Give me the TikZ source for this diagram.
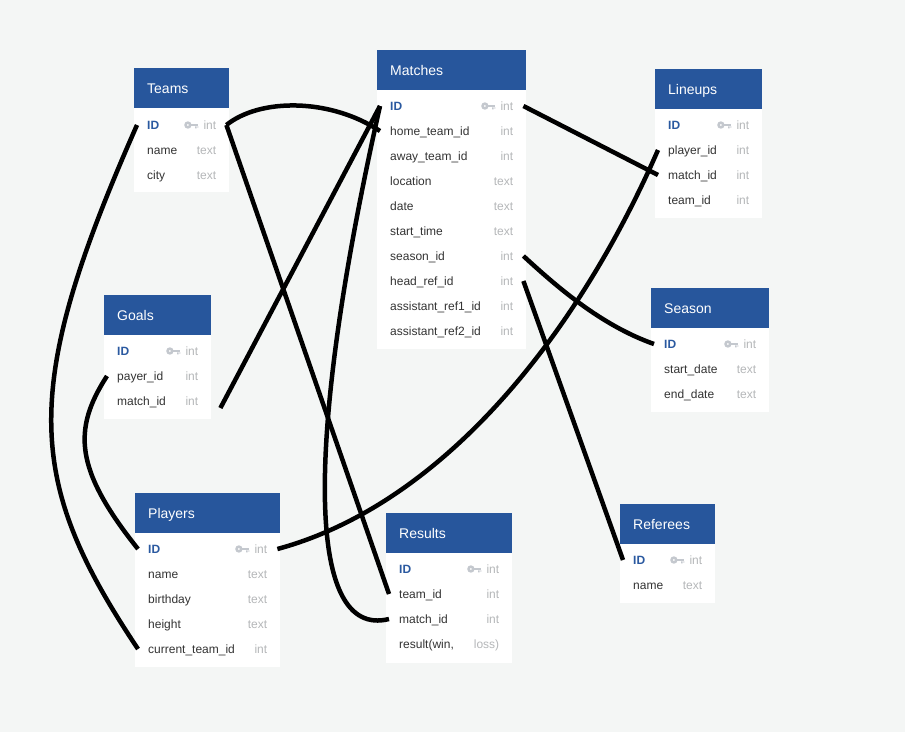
\documentclass[tikz,border=0pt]{standalone}
\usepackage{fontspec}
\setmainfont{Liberation Sans}
\definecolor{bggray}{HTML}{F4F6F5}
\definecolor{headblue}{HTML}{27569C}
\definecolor{pkblue}{HTML}{2A59A0}
\definecolor{fldgray}{HTML}{333333}
\definecolor{typgray}{HTML}{B5B7B9}
\definecolor{keygray}{HTML}{C4C8CE}
\begin{document}
\begin{tikzpicture}[x=1pt, y=-1pt,
  title/.style={anchor=west, inner sep=0, text=white, text height=12, text depth=1, font=\fontsize{14}{16}\selectfont},
  fld/.style={anchor=west, inner xsep=10, inner ysep=0, align=left, text=fldgray, text height=9.6, text depth=1.4, font=\fontsize{12}{14}\selectfont},
  pk/.style={text=pkblue, font=\fontsize{12}{14}\selectfont\bfseries},
  typ/.style={anchor=east, inner xsep=10, inner ysep=0, text=typgray, text height=9.6, text depth=1.4, font=\fontsize{12}{14}\selectfont},
  link/.style={line width=4.5, black},
  keyicon/.pic={
    \fill[keygray, even odd rule] (-10.5,0) circle (3.7) (-10.5,0) circle (1.3);
    \fill[keygray] (-7.5,-1.4) rectangle (0,1.4);
    \fill[keygray] (-3.3,1.4) rectangle (-1.7,3.3) (-1.1,1.4) rectangle (0,2.7);
  }]

\useasboundingbox (0,0) rectangle (905,732);
\fill[bggray] (0,0) rectangle (905,732);

%Teams
\fill[headblue] (134,68) rectangle (229,108);
\fill[white] (134,108) rectangle (229,192);
\node[title] (teams) at (147,88) {Teams};
\node[fld, pk, text width=69] (teams-id) at (137,125) {ID} node[typ] at (teams-id.east) {int};
\pic at ([xshift=-28]teams-id.east) {keyicon};
\foreach \key/\fld/\typ [count=\i] in {name/name/text, city/city/text}
  \node[fld, text width=69] (teams-\key) at (137,125+25*\i) {\fld} node[typ] at (teams-\key.east) {\typ};

%Matches
\fill[headblue] (377,50) rectangle (526,90);
\fill[white] (377,90) rectangle (526,349);
\node[title] (matches) at (390,70) {Matches};
\node[fld, pk, text width=123] (matches-id) at (380,106) {ID} node[typ] at (matches-id.east) {int};
\pic at ([xshift=-28]matches-id.east) {keyicon};
\foreach \key/\fld/\typ [count=\i] in {home/home\_team\_id/int, away/away\_team\_id/int,
    location/location/text, date/date/text, start/start\_time/text, season/season\_id/int,
    head/head\_ref\_id/int, ref1/assistant\_ref1\_id/int, ref2/assistant\_ref2\_id/int}
  \node[fld, text width=123] (matches-\key) at (380,106+25*\i) {\fld} node[typ] at (matches-\key.east) {\typ};

%Lineups
\fill[headblue] (655,69) rectangle (762,109);
\fill[white] (655,109) rectangle (762,218);
\node[title] (lineups) at (668,89) {Lineups};
\node[fld, pk, text width=81] (lineups-id) at (658,125) {ID} node[typ] at (lineups-id.east) {int};
\pic at ([xshift=-28]lineups-id.east) {keyicon};
\foreach \key/\fld/\typ [count=\i] in {player/player\_id/int, match/match\_id/int, team/team\_id/int}
  \node[fld, text width=81] (lineups-\key) at (658,125+25*\i) {\fld} node[typ] at (lineups-\key.east) {\typ};

%Goals
\fill[headblue] (104,295) rectangle (211,335);
\fill[white] (104,335) rectangle (211,419);
\node[title] (goals) at (117,315) {Goals};
\node[fld, pk, text width=81] (goals-id) at (107,351) {ID} node[typ] at (goals-id.east) {int};
\pic at ([xshift=-28]goals-id.east) {keyicon};
\foreach \key/\fld/\typ [count=\i] in {player/payer\_id/int, match/match\_id/int}
  \node[fld, text width=81] (goals-\key) at (107,351+25*\i) {\fld} node[typ] at (goals-\key.east) {\typ};

%Season
\fill[headblue] (651,288) rectangle (769,328);
\fill[white] (651,328) rectangle (769,412);
\node[title] (season) at (664,308) {Season};
\node[fld, pk, text width=92] (season-id) at (654,344) {ID} node[typ] at (season-id.east) {int};
\pic at ([xshift=-28]season-id.east) {keyicon};
\foreach \key/\fld/\typ [count=\i] in {start/start\_date/text, end/end\_date/text}
  \node[fld, text width=92] (season-\key) at (654,344+25*\i) {\fld} node[typ] at (season-\key.east) {\typ};

%Players
\fill[headblue] (135,493) rectangle (280,533);
\fill[white] (135,533) rectangle (280,667);
\node[title] (players) at (148,513) {Players};
\node[fld, pk, text width=119] (players-id) at (138,549) {ID} node[typ] at (players-id.east) {int};
\pic at ([xshift=-28]players-id.east) {keyicon};
\foreach \key/\fld/\typ [count=\i] in {name/name/text, birthday/birthday/text, height/height/text, team/current\_team\_id/int}
  \node[fld, text width=119] (players-\key) at (138,549+25*\i) {\fld} node[typ] at (players-\key.east) {\typ};

%Results
\fill[headblue] (386,513) rectangle (512,553);
\fill[white] (386,553) rectangle (512,663);
\node[title] (results) at (399,533) {Results};
\node[fld, pk, text width=100] (results-id) at (389,569) {ID} node[typ] at (results-id.east) {int};
\pic at ([xshift=-28]results-id.east) {keyicon};
\foreach \key/\fld/\typ [count=\i] in {team/team\_id/int, match/match\_id/int, result/{result(win,}/loss)}
  \node[fld, text width=100] (results-\key) at (389,569+25*\i) {\fld} node[typ] at (results-\key.east) {\typ};

%Referees
\fill[headblue] (620,504) rectangle (715,544);
\fill[white] (620,544) rectangle (715,603);
\node[title] (referees) at (633,524) {Referees};
\node[fld, pk, text width=69] (referees-id) at (623,560) {ID} node[typ] at (referees-id.east) {int};
\pic at ([xshift=-28]referees-id.east) {keyicon};
\node[fld, text width=69] (referees-name) at (623,585) {name} node[typ] at (referees-name.east) {text};

%Links
\draw[link] (teams-id.west) .. controls (20,390) and (25,480) .. (players-team.west);
\draw[link] (teams-id.east) .. controls (260,98) and (330,98) .. (matches-home.west);
\draw[link] (teams-id.east) -- (results-team.west);
\draw[link] (matches-id.west) -- ([xshift=12, yshift=-7]goals-match.east);
\draw[link] (matches-id.west) .. controls (305,440) and (305,640) .. (results-match.west);
\draw[link] (matches-id.east) -- (lineups-match.west);
\draw[link] (lineups-player.west) .. controls (575,340) and (440,505) .. (players-id.east);
\draw[link] (matches-season.east) .. controls (555,285) and (600,325) .. (season-id.west);
\draw[link] (matches-head.east) -- (referees-id.west);
\draw[link] (goals-player.west) .. controls (72,430) and (75,470) .. (players-id.west);

\end{tikzpicture}
\end{document}
